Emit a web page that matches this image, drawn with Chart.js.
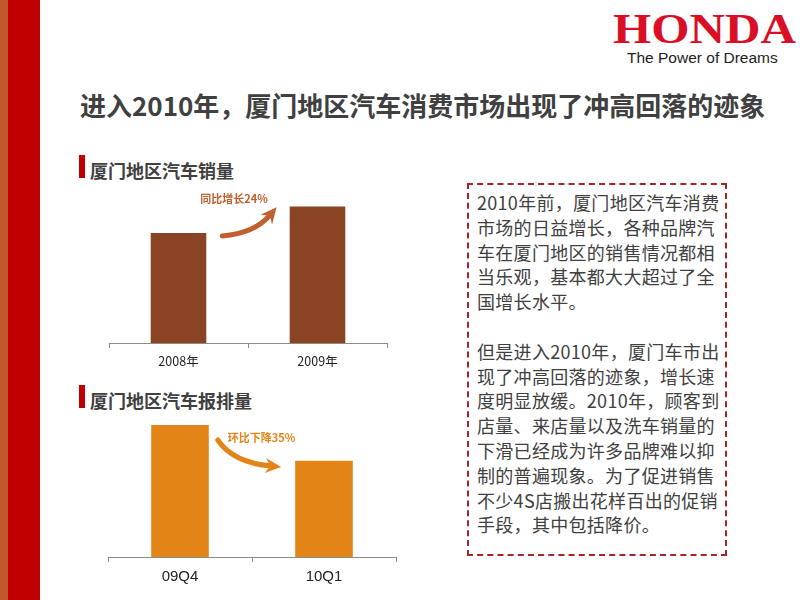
<!DOCTYPE html>
<html><head><meta charset="utf-8">
<script src="https://cdn.jsdelivr.net/npm/chart.js@4"></script>
<style>
html,body{margin:0;padding:0;width:800px;height:600px;overflow:hidden;background:#fff;}
body{position:relative;font-family:"Noto Sans CJK SC","Noto Sans",sans-serif;}
.abs{position:absolute;}
#strip1{left:0;top:0;width:8px;height:600px;background:#C0582C;}
#strip2{left:8px;top:0;width:32px;height:600px;background:#C00000;}
#honda{left:613px;top:8px;font-family:"Liberation Serif",serif;font-weight:bold;font-size:42px;color:#DA0F25;transform:scaleX(1.17);transform-origin:left top;line-height:42px;letter-spacing:0px;}
#tag{left:627px;top:49px;font-family:"Liberation Sans",Arial,sans-serif;font-size:15.5px;color:#222;line-height:18px;}
#title{left:80px;top:86px;font-size:26px;font-weight:bold;color:#404040;line-height:38px;white-space:nowrap;}
.mk{width:6px;height:23px;background:#C00000;}
.st{font-size:18px;font-weight:bold;color:#404040;white-space:nowrap;line-height:24px;}
#box{left:467px;top:183px;width:256px;height:369px;border:2px dashed #A2262B;}
#txt{left:477px;top:190px;font-size:18px;line-height:24.8px;color:#404040;white-space:nowrap;letter-spacing:0.3px;}
canvas{position:absolute;}
</style></head><body>
<div class="abs" id="strip1"></div><div class="abs" id="strip2"></div>
<div class="abs" id="honda">HONDA</div>
<div class="abs" id="tag">The Power of Dreams</div>
<div class="abs" id="title">进入2010年，厦门地区汽车消费市场出现了冲高回落的迹象</div>
<div class="abs mk" style="left:79px;top:155px"></div>
<div class="abs st" style="left:90px;top:158px">厦门地区汽车销量</div>
<div class="abs mk" style="left:79px;top:385px"></div>
<div class="abs st" style="left:90px;top:388px">厦门地区汽车报排量</div>
<div class="abs" id="box"></div>
<div class="abs" id="txt">2010年前，厦门地区汽车消费<br>市场的日益增长，各种品牌汽<br>车在厦门地区的销售情况都相<br>当乐观，基本都大大超过了全<br>国增长水平。<br><br>但是进入2010年，厦门车市出<br>现了冲高回落的迹象，增长速<br>度明显放缓。2010年，顾客到<br>店量、来店量以及洗车销量的<br>下滑已经成为许多品牌难以抑<br>制的普遍现象。为了促进销售<br>不少4S店搬出花样百出的促销<br>手段，其中包括降价。</div>
<canvas id="c1" width="300" height="210" style="left:100px;top:170px"></canvas>
<canvas id="c2" width="310" height="205" style="left:100px;top:390px"></canvas>
<script>
const salesCategories = ['2008年', '2009年'];
const salesValues = [100, 124];
const salesNote = '同比增长24%';
const regCategories = ['09Q4', '10Q1'];
const regValues = [100, 73];
const regNote = '环比下降35%';

function arrowPlugin(cfg){
  return {
    id:'arrow'+cfg.id,
    afterDatasetsDraw(chart){
      const ctx = chart.ctx;
      const bars = chart.getDatasetMeta(0).data;
      const b0 = bars[0], b1 = bars[1];
      const s = {x:b0.x + b0.width/2 + cfg.sdx, y:b0.y + cfg.sdy};
      const e = {x:b1.x - b1.width/2 + cfg.edx, y:b1.y + cfg.edy};
      const c = {x:s.x + (e.x-s.x)*cfg.cx, y:s.y + (e.y-s.y)*cfg.cy};
      ctx.save();
      ctx.strokeStyle = cfg.color; ctx.fillStyle = cfg.color;
      ctx.lineWidth = 5; ctx.lineCap = 'round';
      const ang = Math.atan2(e.y-c.y, e.x-c.x);
      const back = {x:e.x - Math.cos(ang)*7, y:e.y - Math.sin(ang)*7};
      ctx.beginPath(); ctx.moveTo(s.x,s.y); ctx.quadraticCurveTo(c.x,c.y,back.x,back.y); ctx.stroke();
      const L = 13, W = 7.5;
      ctx.beginPath();
      ctx.moveTo(e.x + Math.cos(ang)*3, e.y + Math.sin(ang)*3);
      ctx.lineTo(e.x - Math.cos(ang)*L + Math.cos(ang+Math.PI/2)*W, e.y - Math.sin(ang)*L + Math.sin(ang+Math.PI/2)*W);
      ctx.lineTo(e.x - Math.cos(ang)*L*0.6, e.y - Math.sin(ang)*L*0.6);
      ctx.lineTo(e.x - Math.cos(ang)*L - Math.cos(ang+Math.PI/2)*W, e.y - Math.sin(ang)*L - Math.sin(ang+Math.PI/2)*W);
      ctx.closePath(); ctx.fill();
      ctx.font = 'bold 11px "Noto Sans CJK SC"';
      ctx.textBaseline = 'middle'; ctx.textAlign = 'left';
      ctx.fillText(cfg.text, b0.x + b0.width/2 + cfg.tx, b0.y + cfg.ty);
      ctx.restore();
    }
  };
}

function makeChart(id, labels, values, color, max, pad, fontSize, fontFamily, xh, plugin){
  return new Chart(document.getElementById(id), {
    type:'bar',
    data:{labels:labels, datasets:[{data:values, backgroundColor:color, barPercentage:0.8, categoryPercentage:0.5}]},
    options:{
      responsive:false, animation:false,
      layout:{padding:pad},
      plugins:{legend:{display:false}, tooltip:{enabled:false}},
      scales:{
        y:{display:false, min:0, max:max},
        x:{
          grid:{offset:true, drawOnChartArea:false, drawTicks:true, tickLength:5, color:'#8c8c8c', lineWidth:1},
          border:{display:true, color:'#8c8c8c', width:1},
          ticks:{color:'#222', padding:6, font:{size:fontSize, family:fontFamily}},
          afterFit(scale){ scale.height = xh; }
        }
      }
    },
    plugins:[plugin]
  });
}

makeChart('c1', salesCategories, salesValues, '#8B4423', 150, {left:9, right:13, top:8, bottom:0}, 12.5, '"Noto Sans CJK SC"', 37,
  arrowPlugin({id:1, color:'#C0602E', sdx:16, sdy:3, edx:-15, edy:3, cx:0.62, cy:0.1, text:salesNote, tx:-6, ty:-34}));
makeChart('c2', regCategories, regValues, '#E38417', 120, {left:8, right:14, top:8.6, bottom:0}, 15, '"Liberation Sans", Arial', 38,
  arrowPlugin({id:2, color:'#E38417', sdx:9, sdy:15, edx:-17, edy:6, cx:0.25, cy:0.85, text:regNote, tx:19, ty:13}));
</script>
</body></html>
